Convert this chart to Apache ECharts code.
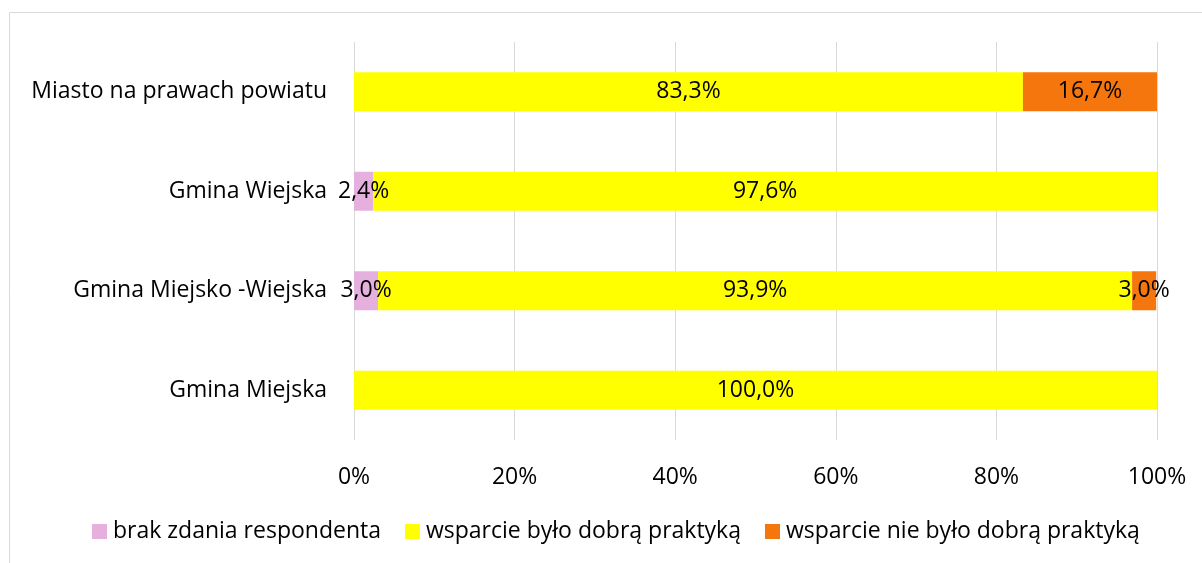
<!DOCTYPE html>
<html><head><meta charset="utf-8">
<script src="https://cdn.jsdelivr.net/npm/echarts@6/dist/echarts.min.js"></script>
<style>html,body{margin:0;padding:0;background:#fff}#c{width:1202px;height:563px}</style>
</head><body><div id="c"></div>
<script>
const categories = ['Gmina Miejska', 'Gmina Miejsko -Wiejska', 'Gmina Wiejska', 'Miasto na prawach powiatu'];
const seriesNames = ['brak zdania respondenta', 'wsparcie było dobrą praktyką', 'wsparcie nie było dobrą praktyką'];
const brakZdania = [0, 3.0, 2.4, 0];
const dobraPraktyka = [100.0, 93.9, 97.6, 83.3];
const nieDobraPraktyka = [0, 3.0, 0, 16.7];
const xTicks = [0, 20, 40, 60, 80, 100];

const FONT = 'Open Sans';
const FS = 23;
const colors = ['#E6B0DE', '#FFFF00', '#F5760D'];
const fmt = p => p.value > 0 ? p.value.toFixed(1).replace('.', ',') + '%' : '';
function mk(name, data, color) {
  return {
    name, type: 'bar', stack: 'a', data, barWidth: 39,
    itemStyle: { color },
    label: { show: true, position: 'inside', formatter: fmt, color: '#000', fontFamily: FONT, fontSize: FS },
    emphasis: { disabled: true }
  };
}
const chart = echarts.init(document.getElementById('c'), null, { renderer: 'canvas' });
chart.setOption({
  animation: false,
  graphic: [{ type: 'rect', shape: { x: 9.5, y: 12.5, width: 1200, height: 560 }, style: { fill: 'none', stroke: '#d9d9d9', lineWidth: 1 }, silent: true }],
  grid: { left: 354, right: 45, top: 42, bottom: 123, containLabel: false },
  xAxis: {
    type: 'value', min: 0, max: 100, interval: 20,
    axisLine: { show: false }, axisTick: { show: false },
    splitLine: { show: true, lineStyle: { color: '#d9d9d9', width: 1 } },
    axisLabel: { margin: 26, color: '#000', fontFamily: FONT, fontSize: FS, formatter: v => xTicks.includes(v) ? v + '%' : '' }
  },
  yAxis: {
    type: 'category', data: categories,
    axisLine: { show: false }, axisTick: { show: false }, splitLine: { show: false },
    axisLabel: { margin: 27, color: '#000', fontFamily: FONT, fontSize: FS }
  },
  legend: {
    bottom: 20, left: 92, padding: 0, itemWidth: 15, itemHeight: 15, itemGap: 24, icon: 'rect',
    textStyle: { color: '#000', fontFamily: FONT, fontSize: FS, padding: [0, 0, 0, 1] },
    data: seriesNames
  },
  series: [
    mk(seriesNames[0], brakZdania, colors[0]),
    mk(seriesNames[1], dobraPraktyka, colors[1]),
    mk(seriesNames[2], nieDobraPraktyka, colors[2])
  ]
});
</script></body></html>
